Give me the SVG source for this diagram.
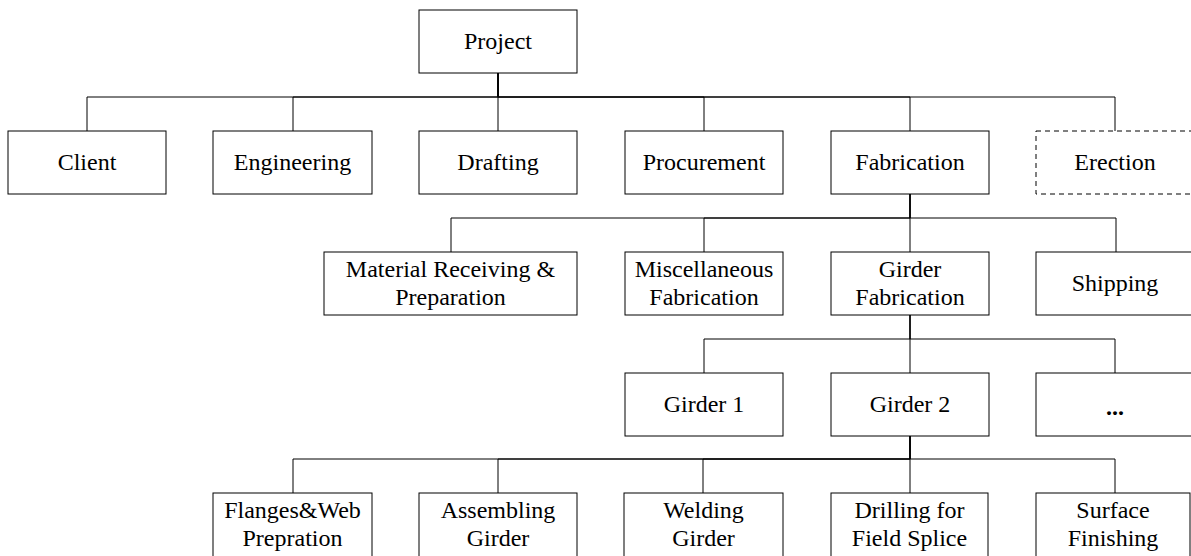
<svg xmlns="http://www.w3.org/2000/svg" width="1191" height="556" viewBox="0 0 1191 556">
  <style>
    .box { fill: #fff; stroke: #000; stroke-width: 1; }
    .dash { stroke-dasharray: 5 4; }
    .lbl { font-family: "Liberation Serif", "Times New Roman", serif; font-size: 24px; fill: #000; text-anchor: middle; }
    .dots { font-weight: bold; }
    .wire { fill: none; stroke: #000; stroke-width: 1; }
  </style>
  <rect width="1191" height="556" fill="#fff"/>

  <!-- elbow connectors, one path per parent/child pair -->
  <g id="connectors">
    <path class="wire" d="M498 73 V97 H87 V131"/>
    <path class="wire" d="M498 73 V97 H293 V131"/>
    <path class="wire" d="M498 73 V97 H498 V131"/>
    <path class="wire" d="M498 73 V97 H704 V131"/>
    <path class="wire" d="M498 73 V97 H910 V131"/>
    <path class="wire" d="M498 73 V97 H1115 V131"/>

    <path class="wire" d="M910 194 V218 H451 V252"/>
    <path class="wire" d="M910 194 V218 H704 V252"/>
    <path class="wire" d="M910 194 V218 H910 V252"/>
    <path class="wire" d="M910 194 V218 H1116 V252"/>

    <path class="wire" d="M910 315 V339 H704 V373"/>
    <path class="wire" d="M910 315 V339 H910 V373"/>
    <path class="wire" d="M910 315 V339 H1115 V373"/>

    <path class="wire" d="M910 436 V459 H293 V493"/>
    <path class="wire" d="M910 436 V459 H498 V493"/>
    <path class="wire" d="M910 436 V459 H703 V493"/>
    <path class="wire" d="M910 436 V459 H910 V493"/>
    <path class="wire" d="M910 436 V459 H1115 V493"/>
  </g>

  <!-- root -->
  <g id="project">
    <rect class="box" x="419" y="10" width="158" height="63"/>
    <text class="lbl" x="498" y="49">Project</text>
  </g>

  <!-- first level -->
  <g id="client">
    <rect class="box" x="8" y="131" width="158" height="63"/>
    <text class="lbl" x="87" y="170">Client</text>
  </g>
  <g id="engineering">
    <rect class="box" x="213" y="131" width="159" height="63"/>
    <text class="lbl" x="292.5" y="170">Engineering</text>
  </g>
  <g id="drafting">
    <rect class="box" x="419" y="131" width="158" height="63"/>
    <text class="lbl" x="498" y="170">Drafting</text>
  </g>
  <g id="procurement">
    <rect class="box" x="625" y="131" width="158" height="63"/>
    <text class="lbl" x="704" y="170">Procurement</text>
  </g>
  <g id="fabrication">
    <rect class="box" x="831" y="131" width="158" height="63"/>
    <text class="lbl" x="910" y="170">Fabrication</text>
  </g>
  <g id="erection">
    <rect class="box dash" x="1036" y="131" width="158" height="63"/>
    <text class="lbl" x="1115" y="170">Erection</text>
  </g>

  <!-- fabrication breakdown -->
  <g id="material-receiving">
    <rect class="box" x="324" y="252" width="253" height="63"/>
    <text class="lbl" x="450.5" y="277">Material Receiving &amp;</text>
    <text class="lbl" x="450.5" y="305">Preparation</text>
  </g>
  <g id="misc-fabrication">
    <rect class="box" x="625" y="252" width="158" height="63"/>
    <text class="lbl" x="704" y="277">Miscellaneous</text>
    <text class="lbl" x="704" y="305">Fabrication</text>
  </g>
  <g id="girder-fabrication">
    <rect class="box" x="831" y="252" width="158" height="63"/>
    <text class="lbl" x="910" y="277">Girder</text>
    <text class="lbl" x="910" y="305">Fabrication</text>
  </g>
  <g id="shipping">
    <rect class="box" x="1036" y="252" width="158" height="63"/>
    <text class="lbl" x="1115" y="291">Shipping</text>
  </g>

  <!-- girders -->
  <g id="girder-1">
    <rect class="box" x="625" y="373" width="158" height="63"/>
    <text class="lbl" x="704" y="412">Girder 1</text>
  </g>
  <g id="girder-2">
    <rect class="box" x="831" y="373" width="158" height="63"/>
    <text class="lbl" x="910" y="412">Girder 2</text>
  </g>
  <g id="girder-more">
    <rect class="box" x="1036" y="373" width="158" height="63"/>
    <text class="lbl dots" x="1115" y="415">...</text>
  </g>

  <!-- girder 2 tasks -->
  <g id="flanges-web">
    <rect class="box" x="213" y="493" width="159" height="70"/>
    <text class="lbl" x="292.5" y="518">Flanges&amp;Web</text>
    <text class="lbl" x="292.5" y="546">Prepration</text>
  </g>
  <g id="assembling">
    <rect class="box" x="419" y="493" width="158" height="70"/>
    <text class="lbl" x="498" y="518">Assembling</text>
    <text class="lbl" x="498" y="546">Girder</text>
  </g>
  <g id="welding">
    <rect class="box" x="624" y="493" width="159" height="70"/>
    <text class="lbl" x="703.5" y="518">Welding</text>
    <text class="lbl" x="703.5" y="546">Girder</text>
  </g>
  <g id="drilling">
    <rect class="box" x="831" y="493" width="157" height="70"/>
    <text class="lbl" x="909.5" y="518">Drilling for</text>
    <text class="lbl" x="909.5" y="546">Field Splice</text>
  </g>
  <g id="surface-finishing">
    <rect class="box" x="1036" y="493" width="154" height="70"/>
    <text class="lbl" x="1113" y="518">Surface</text>
    <text class="lbl" x="1113" y="546">Finishing</text>
  </g>
</svg>
